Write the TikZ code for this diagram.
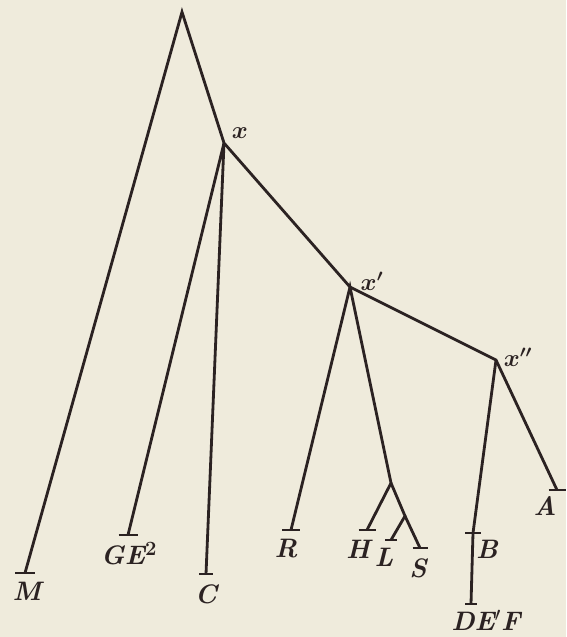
\documentclass[tikz,border=0pt]{standalone}
\usetikzlibrary{positioning}
\definecolor{paper}{HTML}{EFEBDC}
\definecolor{ink}{HTML}{2B2222}

\begin{document}
\begin{tikzpicture}[x=0.025cm, y=-0.025cm,
    every node/.style={font=\fontsize{19}{21}\selectfont\bfseries\itshape, text=ink, inner sep=0pt},
    fork/.style={font=\fontsize{17}{19}\selectfont\boldmath},
    branch/.style={draw=ink, line width=2pt, line join=miter},
    bar/.style={draw=ink, line width=1.8pt},
]
\fill[paper] (0,0) rectangle (566,637);
\useasboundingbox (0,0) rectangle (566,637);

% forks of the tree
\coordinate (root) at (182,12);
\coordinate (x)    at (224,143);
\coordinate (x1)   at (350,287);
\coordinate (x2)   at (496,360);
\coordinate (hls)  at (391,483);
\coordinate (ls)   at (405,516);

% ends of the branches
\coordinate (m)   at (25,573);
\coordinate (ge)  at (128,535);
\coordinate (c)   at (206,574);
\coordinate (r)   at (291,530);
\coordinate (h)   at (367,530);
\coordinate (l)   at (391,540);
\coordinate (s)   at (420,548);
\coordinate (b)   at (473,533);
\coordinate (def) at (471,604);
\coordinate (a)   at (557,490);

% the branches
\draw[branch] (m) -- (root) -- (x) -- (x1) -- (x2) -- (a);
\draw[branch] (ge) -- (x) -- (c);
\draw[branch] (r) -- (x1) -- (hls) -- (h);
\draw[branch] (hls) -- (ls) -- (l);
\draw[branch] (ls) -- (s);
\draw[branch] (x2) -- (b) -- (def);

% short bars at the ends
\foreach \leaf/\w in {m/10, ge/9.5, c/7, r/9, h/8.5, l/6, s/7.5, b/8, def/6, a/8.5}{
    \draw[bar] (\leaf) +(-\w,0) -- +(\w,0);
}

% fork labels
\node[fork] (xlab)  at (240,133) {$x$};
\node[fork] (x1lab) at (372,281) {$x'$};
\node[fork] (x2lab) at (518,357) {$x''$};

% leaf labels
\node (mlab)   at (27,591)  {M};
\node (gelab)  at (129,554) {GE$^{\mathbf 2}$};
\node (clab)   at (206,594) {C};
\node (rlab)   at (286,549) {R};
\node (hlab)   at (358,549) {H};
\node (llab)   at (384,557) {L};
\node (slab)   at (418,568) {S};
\node (blab)   at (487,549) {B};
\node (deflab) at (486,620) {DE$'$F};
\node (alab)   at (545,506) {A};
\end{tikzpicture}
\end{document}
